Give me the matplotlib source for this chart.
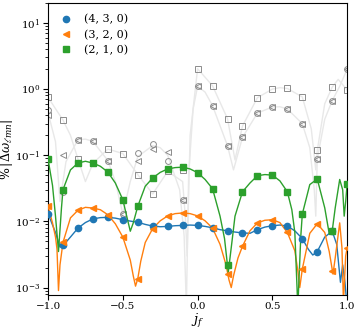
import matplotlib
matplotlib.use("Agg")
import matplotlib.pyplot as plt
import numpy as np

plt.rcParams["font.family"] = "DejaVu Serif"
plt.rcParams["mathtext.fontset"] = "dejavuserif"

# spin grid of the fitted points
jf = [-1.0, -0.9, -0.8, -0.7, -0.6, -0.5, -0.4, -0.3, -0.2, -0.1, 0.0,
      0.1, 0.2, 0.3, 0.4, 0.5, 0.6, 0.7, 0.8, 0.9, 1.0]

labels = ["(4, 3, 0)", "(3, 2, 0)", "(2, 1, 0)"]

# marker values (percent error)
err_430 = [0.0131, 0.00434, 0.0079, 0.0109, 0.0115, 0.0106, 0.0097, 0.0085, 0.0084, 0.0087, 0.0087,
           0.0080, 0.0072, 0.0067, 0.0075, 0.0086, 0.0085, 0.0055, 0.0035, 0.0071, 0.0005]
err_320 = [0.0169, 0.0048, 0.0147, 0.0159, 0.0126, 0.0058, 0.00136, 0.0078, 0.0121, 0.0134, 0.0121,
           0.0079, 0.00162, 0.0042, 0.0095, 0.0106, 0.0068, 0.0019, 0.0092, 0.00176, 0.0040]
err_210 = [0.0877, 0.0301, 0.0762, 0.0762, 0.0557, 0.0213, 0.0169, 0.0453, 0.0620, 0.0664, 0.0545,
           0.0312, 0.00216, 0.0280, 0.0490, 0.0501, 0.0280, 0.0129, 0.0437, 0.0072, 0.0370]

# fitted curves
line_430_x = [-1.0, -0.95, -0.92, -0.9, -0.85, -0.8, -0.75, -0.7, -0.65, -0.6, -0.55, -0.5, -0.45,
              -0.4, -0.35, -0.3, -0.25, -0.2, -0.15, -0.1, -0.05, 0.0, 0.05, 0.1, 0.15, 0.2, 0.25,
              0.3, 0.35, 0.4, 0.45, 0.5, 0.55, 0.6, 0.65, 0.7, 0.74, 0.77, 0.8, 0.85, 0.9, 0.93,
              0.955, 0.97, 0.985, 1.0]
line_430_y = [0.0131, 0.0068, 0.0041, 0.0043, 0.0058, 0.0079, 0.0096, 0.0109, 0.0114, 0.0115, 0.0112,
              0.0106, 0.0101, 0.0097, 0.0090, 0.0085, 0.0083, 0.0084, 0.0086, 0.0087, 0.0088, 0.0087,
              0.0084, 0.0080, 0.0075, 0.0072, 0.0069, 0.0067, 0.0066, 0.0075, 0.0082, 0.0086, 0.0088,
              0.0085, 0.0072, 0.0055, 0.0038, 0.0031, 0.0035, 0.0058, 0.0071, 0.0045, 0.0012, 0.0022,
              0.0012, 0.0005]

line_320_x = [-1.0, -0.97, -0.95, -0.94, -0.93, -0.92, -0.9, -0.85, -0.8, -0.75, -0.7, -0.65, -0.6,
              -0.55, -0.5, -0.45, -0.43, -0.415, -0.4, -0.38, -0.35, -0.3, -0.25, -0.2, -0.15, -0.1,
              -0.05, 0.0, 0.05, 0.1, 0.15, 0.19, 0.21, 0.225, 0.24, 0.27, 0.3, 0.35, 0.4, 0.45, 0.5,
              0.55, 0.6, 0.65, 0.67, 0.683, 0.7, 0.75, 0.8, 0.85, 0.88, 0.905, 0.92, 0.95, 0.965,
              0.975, 0.99, 1.0]
line_320_y = [0.0169, 0.0095, 0.0058, 0.0038, 0.0009, 0.0022, 0.0048, 0.0113, 0.0147, 0.0163, 0.0159,
              0.0150, 0.0126, 0.0092, 0.0058, 0.0026, 0.0015, 0.00105, 0.00136, 0.0025, 0.0048,
              0.0078, 0.0102, 0.0121, 0.0131, 0.0134, 0.0131, 0.0121, 0.0102, 0.0079, 0.0045,
              0.0022, 0.0013, 0.0010, 0.0015, 0.0028, 0.0042, 0.0072, 0.0095, 0.0104, 0.0106,
              0.0096, 0.0068, 0.0036, 0.0018, 0.0010, 0.0019, 0.0066, 0.0092, 0.0068, 0.0035,
              0.0016, 0.0028, 0.0095, 0.0040, 0.0006, 0.0030, 0.0040]

line_210_x = [-1.0, -0.97, -0.95, -0.93, -0.91, -0.9, -0.85, -0.8, -0.75, -0.7, -0.65, -0.6, -0.55,
              -0.5, -0.47, -0.45, -0.43, -0.4, -0.35, -0.3, -0.25, -0.2, -0.15, -0.1, -0.05, 0.0,
              0.05, 0.1, 0.15, 0.18, 0.205, 0.23, 0.25, 0.3, 0.35, 0.4, 0.45, 0.5, 0.55, 0.6, 0.63,
              0.65, 0.67, 0.69, 0.7, 0.75, 0.8, 0.85, 0.88, 0.9, 0.92, 0.95, 0.97, 0.98, 0.99, 1.0]
line_210_y = [0.0877, 0.035, 0.012, 0.0035, 0.016, 0.0301, 0.060, 0.0762, 0.081, 0.0762, 0.068,
              0.0557, 0.038, 0.0213, 0.011, 0.0071, 0.0095, 0.0169, 0.034, 0.0453, 0.055, 0.0620,
              0.065, 0.066, 0.062, 0.0545, 0.043, 0.0312, 0.012, 0.0055, 0.0017, 0.005, 0.012,
              0.028, 0.038, 0.049, 0.051, 0.050, 0.041, 0.028, 0.015, 0.0068, 0.0005, 0.006,
              0.0129, 0.036, 0.0437, 0.016, 0.0065, 0.0072, 0.016, 0.043, 0.030, 0.012, 0.020,
              0.037]

# grey reference points (open markers)
grey_sq = [0.75, 0.34, 0.088, 0.075, 0.124, 0.106, 0.051, 0.026, 0.057, 0.060, 2.03,
           1.12, 0.356, 0.276, 0.74, 1.0, 1.02, 0.76, 0.118, 1.07, 0.97]
grey_tri = [0.40, 0.102, 0.171, 0.162, 0.083, 0.013, 0.083, 0.124, 0.11, 0.021, 1.1,
            0.56, 0.139, 0.186, 0.434, 0.535, 0.50, 0.30, 0.088, 0.67, 2.0]
grey_circ = [0.475, 0.028, 0.171, 0.162, 0.083, 0.013, 0.108, 0.148, 0.083, 0.021, 1.1,
             0.56, 0.139, 0.186, 0.434, 0.535, 0.50, 0.30, 0.088, 0.67, 2.0]

grey_a_x = [-1.0, -0.95, -0.92, -0.88, -0.8, -0.75, -0.7, -0.6, -0.55, -0.5, -0.45, -0.4, -0.3,
            -0.25, -0.2, -0.12, -0.09, -0.075, -0.06, -0.03, 0.0, 0.05, 0.1, 0.2, 0.24, 0.3, 0.4,
            0.5, 0.55, 0.6, 0.7, 0.75, 0.78, 0.79, 0.8, 0.85, 0.9, 0.95, 1.0]
grey_a_y = [0.44, 0.16, 0.02, 0.08, 0.171, 0.175, 0.162, 0.083, 0.04, 0.013, 0.04, 0.095, 0.14,
            0.13, 0.10, 0.03, 0.006, 0.0005, 0.05, 0.5, 1.1, 0.9, 0.56, 0.139, 0.06, 0.186, 0.434,
            0.535, 0.54, 0.50, 0.30, 0.13, 0.03, 0.012, 0.088, 0.35, 0.67, 1.1, 2.0]
grey_b_x = [-1.0, -0.9, -0.85, -0.8, -0.75, -0.7, -0.6, -0.5, -0.4, -0.3, -0.2, -0.1, -0.08,
            -0.07, -0.05, 0.0, 0.1, 0.2, 0.25, 0.3, 0.4, 0.5, 0.55, 0.6, 0.7, 0.76, 0.79, 0.8,
            0.85, 0.9, 0.94, 1.0]
grey_b_y = [0.75, 0.34, 0.2, 0.088, 0.04, 0.075, 0.124, 0.106, 0.051, 0.026, 0.057, 0.04, 0.01,
            0.003, 0.2, 2.03, 1.12, 0.356, 0.085, 0.276, 0.74, 1.0, 1.05, 1.02, 0.76, 0.25, 0.06,
            0.118, 0.6, 1.07, 1.4, 0.97]

fig = plt.figure(figsize=(3.57, 3.30), dpi=100)
ax = fig.add_axes([0.1345, 0.107, 0.838, 0.884])

# grey background fits
ax.plot(grey_a_x, grey_a_y, color="0.91", lw=1, zorder=1)
ax.plot(grey_b_x, grey_b_y, color="0.91", lw=1, zorder=1)
gkw = dict(ls="none", mfc="none", mec="0.55", ms=4.2, mew=0.7, zorder=2)
ax.plot(jf, grey_sq, marker="s", **gkw)
ax.plot(jf, grey_tri, marker="<", **gkw)
ax.plot(jf, grey_circ, marker="o", **gkw)

colors = ["tab:blue", "tab:orange", "tab:green"]
markers = ["o", "<", "s"]
lines = [(line_430_x, line_430_y), (line_320_x, line_320_y), (line_210_x, line_210_y)]
points = [err_430, err_320, err_210]
for (lx, ly), pts, c, m, lab in zip(lines, points, colors, markers, labels):
    ax.plot(lx, ly, color=c, lw=1, zorder=3)
    ax.plot(jf, pts, ls="none", marker=m, color=c, ms=4.5, zorder=4, label=lab)

ax.set_yscale("log")
ax.set_xlim(-1.0, 1.0)
ax.set_ylim(7.8e-4, 20)
ax.set_xticks([-1.0, -0.5, 0.0, 0.5, 1.0])
ax.tick_params(labelsize=7.5, pad=2)
ax.set_xlabel(r"$j_f$", fontsize=9.5)
ax.set_ylabel(r"$\%\,|\Delta\tilde{\omega}_{\ell mn}|$", fontsize=9)
ax.xaxis.set_label_coords(0.5, -0.058)
ax.yaxis.set_label_coords(-0.106, 0.5)

ax.legend(loc="upper left", frameon=False, fontsize=8, handlelength=1.2,
          handletextpad=1.0, labelspacing=0.45, borderaxespad=0.6)

fig.savefig("out.png", dpi=100)
